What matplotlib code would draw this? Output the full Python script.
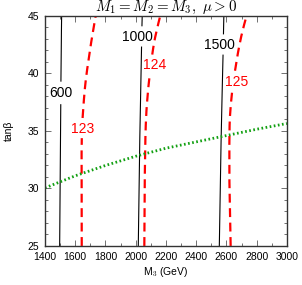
import numpy as np
import matplotlib
matplotlib.use("Agg")
import matplotlib.pyplot as plt
from matplotlib.ticker import MultipleLocator

plt.rcParams['mathtext.fontset'] = 'cm'
plt.rcParams['font.family'] = ['Liberation Sans', 'DejaVu Sans']

# tan(beta) sample points shared by the contours
tb = [25, 30, 33, 35, 36, 37, 38, 39, 40, 41, 42, 43, 44, 45]

# gluino mass contours (black, solid) -> M3 at each tan(beta)
m3_g600 = [1497, 1500, 1502, 1503, 1503, 1504, 1505, 1505, 1506, 1507, 1508, 1508, 1509, 1510]
m3_g1000 = [2017, 2022, 2025, 2028, 2029, 2031, 2032, 2034, 2035, 2037, 2038, 2040, 2041, 2043]
m3_g1500 = [2553, 2559, 2563, 2566, 2567, 2569, 2571, 2573, 2575, 2577, 2578, 2580, 2581, 2583]

# Higgs mass contours (red, dashed)
m3_h123 = [1643, 1642, 1642, 1644, 1648, 1653, 1659, 1666, 1675, 1686, 1697, 1709, 1722, 1735]
m3_h124 = [2057, 2059, 2062, 2065, 2068, 2072, 2078, 2085, 2094, 2103, 2113, 2126, 2143, 2162]
m3_h125 = [2628, 2620, 2619, 2620, 2622, 2627, 2634, 2643, 2654, 2666, 2679, 2694, 2712, 2733]

# green dotted line
m3_green = [1400, 1600, 1800, 2000, 2200, 2400, 2600, 2800, 3000]
tb_green = [30.05, 31.1, 32.0, 32.8, 33.5, 34.05, 34.6, 35.15, 35.65]

# contour labels: (text, M3, tanb, gap range in tanb)
g_labels = [("600", 1505, 38.3, (37.3, 39.3)),
            ("1000", 2011, 43.2, (42.3, 44.1)),
            ("1500", 2557, 42.5, (41.6, 43.4))]
h_labels = [("123", 1648, 35.2, (34.4, 36.1)),
            ("124", 2125, 40.7, (39.9, 41.6)),
            ("125", 2666, 39.3, (38.5, 40.2))]


def with_gap(m3, lo, hi):
    t = np.linspace(25, 45, 400)
    x = np.interp(t, tb, m3)
    x = np.where((t > lo) & (t < hi), np.nan, x)
    return x, t


fig = plt.figure(figsize=(3.02, 2.85), dpi=100)
ax = fig.add_axes([0.149, 0.137, 0.801, 0.807])

for m3, (txt, lx, ly, gap) in zip([m3_g600, m3_g1000, m3_g1500], g_labels):
    x, t = with_gap(m3, *gap)
    ax.plot(x, t, color='black', lw=0.8)
    ax.text(lx, ly, txt, color='black', fontsize=10, ha='center', va='center')

for m3, (txt, lx, ly, gap) in zip([m3_h123, m3_h124, m3_h125], h_labels):
    x, t = with_gap(m3, *gap)
    ax.plot(x, t, color='red', lw=1.6, dashes=(4, 2.5))
    ax.text(lx, ly, txt, color='red', fontsize=10, ha='center', va='center')

ax.plot(m3_green, tb_green, color='#12a012', lw=2.0, linestyle=(0, (0.6, 0.9)))

ax.set_xlim(1400, 3000)
ax.set_ylim(25, 45)
ax.xaxis.set_major_locator(MultipleLocator(200))
ax.xaxis.set_minor_locator(MultipleLocator(100))
ax.yaxis.set_major_locator(MultipleLocator(5))
ax.yaxis.set_minor_locator(MultipleLocator(1))
ax.tick_params(which='both', direction='in', top=True, right=True,
               labelsize=7.5, color='0.35')
ax.tick_params(axis='x', pad=4.5)
ax.tick_params(axis='y', pad=4)
ax.tick_params(which='major', length=4, width=0.6)
ax.tick_params(which='minor', length=2.5, width=0.6)
for s in ax.spines.values():
    s.set_linewidth(1.0)
    s.set_color('0.2')

ax.set_xlabel("M$_3$ (GeV)", fontsize=7.5, labelpad=2)
ax.set_ylabel("tan\u03b2", fontsize=7.5, labelpad=10)
ax.set_title(r"$M_1 = M_2 = M_3,\ \mu > 0$", fontsize=10.8, pad=1.5)

fig.savefig("out.png", dpi=100)
